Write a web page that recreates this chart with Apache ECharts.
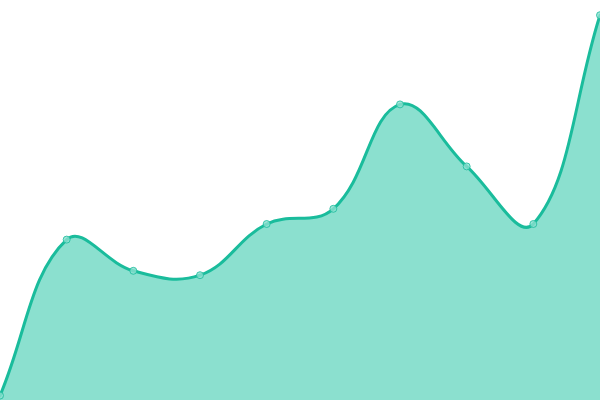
<!DOCTYPE html>
<html>
<head>
<meta charset="utf-8">
<script src="https://cdn.jsdelivr.net/npm/echarts@6/dist/echarts.min.js"></script>
<style>html,body{margin:0;padding:0;background:#fff}#c{width:600px;height:400px}</style>
</head>
<body>
<div id="c"></div>
<script>
var categories = ['1','2','3','4','5','6','7','8','9','10'];
var values = [1.1, 40.1, 32.3, 31.2, 44, 47.8, 73.9, 58.4, 44, 96.2];

var LINE_COLOR = '#1abc9c';
var FILL_COLOR = '#8be0cf';
var TENSION = 0.4;

function buildSpline(pts, t, box) {
  var cps = pts.map(function (p, i) {
    var prev = pts[i - 1] || p, next = pts[i + 1] || p;
    var d01 = Math.hypot(p[0] - prev[0], p[1] - prev[1]);
    var d12 = Math.hypot(next[0] - p[0], next[1] - p[1]);
    var s01 = d01 / (d01 + d12), s12 = d12 / (d01 + d12);
    if (isNaN(s01)) s01 = 0;
    if (isNaN(s12)) s12 = 0;
    var fa = s01 * t, fb = s12 * t;
    function cap(q) {
      return [Math.min(Math.max(q[0], box.x), box.x + box.width),
              Math.min(Math.max(q[1], box.y), box.y + box.height)];
    }
    return {
      prev: cap([p[0] - fa * (next[0] - prev[0]), p[1] - fa * (next[1] - prev[1])]),
      next: cap([p[0] + fb * (next[0] - prev[0]), p[1] + fb * (next[1] - prev[1])])
    };
  });
  var d = 'M' + pts[0][0] + ' ' + pts[0][1];
  for (var i = 1; i < pts.length; i++) {
    d += ' C' + cps[i - 1].next[0] + ' ' + cps[i - 1].next[1] + ' ' +
         cps[i].prev[0] + ' ' + cps[i].prev[1] + ' ' + pts[i][0] + ' ' + pts[i][1];
  }
  return d;
}

var chart = echarts.init(document.getElementById('c'));
chart.setOption({
  animation: false,
  grid: {left: 0, right: 0, top: 0, bottom: 0},
  xAxis: {type: 'category', data: categories, boundaryGap: false, show: false},
  yAxis: {type: 'value', min: 0, max: 100, show: false},
  series: [{
    type: 'custom',
    silent: true,
    clip: false,
    data: values.map(function (v, i) { return [i, v]; }),
    encode: {x: 0, y: 1},
    renderItem: function (params, api) {
      if (params.dataIndex !== 0) return null;
      var box = params.coordSys;
      var pts = values.map(function (v, i) { return api.coord([i, v]); });
      var line = buildSpline(pts, TENSION, box);
      var bottom = box.y + box.height;
      var area = line + ' L' + pts[pts.length - 1][0] + ' ' + bottom +
                 ' L' + pts[0][0] + ' ' + bottom + ' Z';
      return {
        type: 'group',
        children: [
          {type: 'path', shape: {pathData: area}, style: {fill: FILL_COLOR, stroke: null}},
          {type: 'path', shape: {pathData: line},
           style: {fill: null, stroke: LINE_COLOR, lineWidth: 3, lineJoin: 'round', lineCap: 'round'}}
        ]
      };
    }
  }, {
    type: 'scatter',
    data: values,
    symbol: 'circle',
    symbolSize: 7,
    silent: true,
    z: 5,
    itemStyle: {color: FILL_COLOR, borderColor: LINE_COLOR, borderWidth: 1}
  }]
});
</script>
</body>
</html>
